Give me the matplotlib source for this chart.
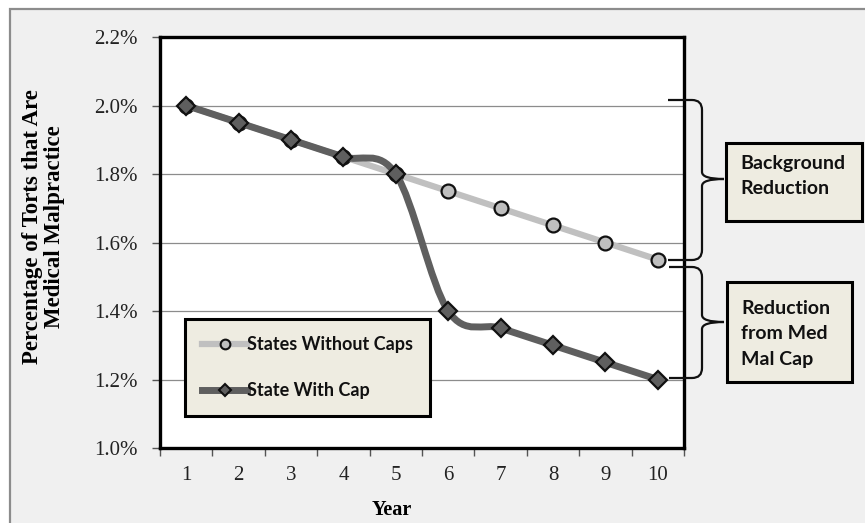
# -*- coding: utf-8 -*-

import numpy as np
from matplotlib import pyplot as plt
from matplotlib.path import Path
from matplotlib.patches import PathPatch, Rectangle
from matplotlib.lines import Line2D
from matplotlib.ticker import FuncFormatter

# data
years = [1, 2, 3, 4, 5, 6, 7, 8, 9, 10]
no_caps = [2.00, 1.95, 1.90, 1.85, 1.80, 1.75, 1.70, 1.65, 1.60, 1.55]
with_cap = [2.00, 1.95, 1.90, 1.85, 1.80, 1.40, 1.35, 1.30, 1.25, 1.20]
y_ticks = [1.0, 1.2, 1.4, 1.6, 1.8, 2.0, 2.2]
labels = ['States Without Caps', 'State With Cap']
notes = ['Background\nReduction', 'Reduction\nfrom Med\nMal Cap']

W, H = 865, 523
SANS = ['Lato', 'DejaVu Sans']
SERIF = ['Liberation Serif', 'DejaVu Serif']

# Excel style smoothed line as a bezier path (control points from neighbours)
def smooth_path( x, y ):
    x = np.asarray( x, float ); y = np.asarray( y, float )
    n = len( x )
    verts = [ (x[0], y[0]) ]
    codes = [ Path.MOVETO ]
    for i in range( n-1 ):
        p0 = max( i-1, 0 ); p3 = min( i+2, n-1 )
        c1 = ( x[i] + (x[i+1]-x[p0])/6, y[i] + (y[i+1]-y[p0])/6 )
        c2 = ( x[i+1] - (x[p3]-x[i])/6, y[i+1] - (y[p3]-y[i])/6 )
        verts += [ c1, c2, (x[i+1], y[i+1]) ]
        codes += [ Path.CURVE4 ]*3
    return Path( verts, codes )

def px( x, y ):
    # pixel (from top left) -> figure fraction
    return ( x/W, 1 - y/H )

fig = plt.figure( figsize=(W/100, H/100), dpi=100 )
fig.patch.set_facecolor( 'white' )
fig.patches.append( Rectangle( px(10, 530), (W+20)/W, 521/H, transform=fig.transFigure,
                               facecolor='#f0f0f0', edgecolor='#8c8c8c', lw=1.6, zorder=-5 ) )

ax = fig.add_axes( [160/W, 1-448/H, 524/W, 411/H] )
ax.set_facecolor( 'white' )
ax.set_xlim( 0.5, 10.5 )
ax.set_ylim( 1.0, 2.2 )

ax.plot( years, no_caps, '-', color='#c0c0c0', lw=4.5, zorder=3,
         marker='o', ms=10, mfc='#bfbfbf', mec='#111111', mew=1.6 )
ax.add_patch( PathPatch( smooth_path( years, with_cap ), facecolor='none',
                         edgecolor='#5f5f5f', lw=5, zorder=4, capstyle='round' ) )
ax.plot( years, with_cap, ls='none', zorder=5,
         marker='D', ms=9, mfc='#5f5f5f', mec='#111111', mew=1.6 )

ax.set_yticks( y_ticks )
ax.yaxis.set_major_formatter( FuncFormatter( lambda v, p: '%.1f%%' % v ) )
ax.set_xticks( years )
ax.set_xticks( np.arange( 0.5, 11, 1 ), minor=True )
ax.tick_params( axis='x', which='major', length=0, pad=13 )
ax.tick_params( axis='x', which='minor', length=6, width=1, color='#555555', direction='out' )
ax.tick_params( axis='y', length=6, width=1, color='#555555', direction='out', pad=10 )
for lab in ax.get_xticklabels() + ax.get_yticklabels():
    lab.set_family( SERIF ); lab.set_fontsize( 15 ); lab.set_color( '#222222' )
ax.grid( axis='y', color='#8c8c8c', lw=0.9, zorder=1 )
ax.set_axisbelow( True )
for s in ax.spines.values():
    s.set_linewidth( 2.4 ); s.set_color( 'black' )

ax.set_xlabel( 'Year', family=SERIF, fontsize=14.5, fontweight='bold' )
ax.xaxis.set_label_coords( (392-160)/524, (448-500)/411 )
ax.set_ylabel( 'Percentage of Torts that Are\nMedical Malpractice', family=SERIF,
               fontsize=16.5, fontweight='bold', linespacing=1.05 )
ax.yaxis.set_label_coords( (65-160)/524, (448-227)/411 )

handles = [ Line2D( [], [], color='#c0c0c0', lw=4.5, marker='o', ms=7, mfc='#bfbfbf', mec='#111111', mew=1.5 ),
            Line2D( [], [], color='#5f5f5f', lw=5, marker='D', ms=6.5, mfc='#5f5f5f', mec='#111111', mew=1.5 ) ]
leg = ax.legend( handles, labels, loc='lower left', bbox_to_anchor=( 25/524, 32/411 ),
                 prop={'family': SANS, 'weight': 'bold', 'size': 13}, fancybox=False,
                 facecolor='#eeece1', edgecolor='black', framealpha=1,
                 labelspacing=1.6, handlelength=2.5, handletextpad=0.0,
                 borderpad=0.95, borderaxespad=0, frameon=True )
leg.get_frame().set_linewidth( 2.2 )
leg.set_zorder( 6 )
for t in leg.get_texts():
    t.set_color( '#111111' )

# braces on the right side
def brace( x0, xv, xt, ytop, ymid, ybot, r=10 ):
    pts = [ (x0, ytop), (xv-r, ytop), (xv, ytop), (xv, ytop+r),
            (xv, ymid-r*0.7), (xv, ymid), (xt, ymid),
            (xv, ymid), (xv, ymid+r*0.7),
            (xv, ybot-r), (xv, ybot), (xv-r, ybot), (x0, ybot) ]
    codes = [ Path.MOVETO, Path.LINETO, Path.CURVE3, Path.CURVE3,
              Path.LINETO, Path.CURVE3, Path.CURVE3,
              Path.CURVE3, Path.CURVE3,
              Path.LINETO, Path.CURVE3, Path.CURVE3, Path.LINETO ]
    verts = [ px( a, b ) for a, b in pts ]
    fig.patches.append( PathPatch( Path( verts, codes ), transform=fig.transFigure,
                                   facecolor='none', edgecolor='#111111', lw=1.6, zorder=7 ) )

brace( 668, 702, 724, 100, 179, 260 )
brace( 669, 702, 724, 267, 322, 378 )

boxes = [ (726, 143, 862, 221), (727, 282, 852, 382) ]
text_top = [ 155, 300 ]
for (x0, y0, x1, y1), txt, ty in zip( boxes, notes, text_top ):
    fig.patches.append( Rectangle( px( x0, y1 ), (x1-x0)/W, (y1-y0)/H, transform=fig.transFigure,
                                   facecolor='#eeece1', edgecolor='black', lw=2.2, zorder=7 ) )
    fig.text( (x0+14)/W, 1-ty/H, txt, ha='left', va='top', family=SANS,
              fontweight='bold', fontsize=14, color='#111111', linespacing=1.6, zorder=8 )

plt.savefig( 'out.png', dpi=100 )
plt.close( fig )
